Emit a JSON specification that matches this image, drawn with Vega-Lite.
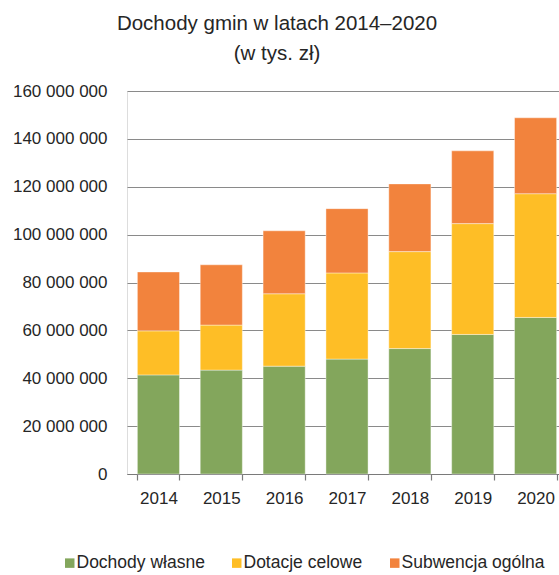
{
  "$schema": "https://vega.github.io/schema/vega-lite/v6.json",
  "width": 432,
  "height": 383,
  "autosize": {"type": "none"},
  "padding": {"left": 127, "top": 91, "right": 0, "bottom": 101},
  "background": "white",
  "title": {
    "text": ["Dochody gmin w latach 2014–2020", "(w tys. zł)"],
    "font": "Liberation Sans",
    "fontSize": 20.5,
    "fontWeight": "normal",
    "color": "#262626",
    "anchor": "middle",
    "dx": -66,
    "lineHeight": 30,
    "offset": 18
  },
  "data": {
    "values": [
      {"rok": "2014", "kategoria": "Dochody własne", "wartosc": 41400000},
      {"rok": "2014", "kategoria": "Dotacje celowe", "wartosc": 18400000},
      {"rok": "2014", "kategoria": "Subwencja ogólna", "wartosc": 24600000},
      {"rok": "2015", "kategoria": "Dochody własne", "wartosc": 43400000},
      {"rok": "2015", "kategoria": "Dotacje celowe", "wartosc": 18800000},
      {"rok": "2015", "kategoria": "Subwencja ogólna", "wartosc": 25200000},
      {"rok": "2016", "kategoria": "Dochody własne", "wartosc": 45050000},
      {"rok": "2016", "kategoria": "Dotacje celowe", "wartosc": 30250000},
      {"rok": "2016", "kategoria": "Subwencja ogólna", "wartosc": 26300000},
      {"rok": "2017", "kategoria": "Dochody własne", "wartosc": 48000000},
      {"rok": "2017", "kategoria": "Dotacje celowe", "wartosc": 36000000},
      {"rok": "2017", "kategoria": "Subwencja ogólna", "wartosc": 26850000},
      {"rok": "2018", "kategoria": "Dochody własne", "wartosc": 52400000},
      {"rok": "2018", "kategoria": "Dotacje celowe", "wartosc": 40500000},
      {"rok": "2018", "kategoria": "Subwencja ogólna", "wartosc": 28300000},
      {"rok": "2019", "kategoria": "Dochody własne", "wartosc": 58300000},
      {"rok": "2019", "kategoria": "Dotacje celowe", "wartosc": 46300000},
      {"rok": "2019", "kategoria": "Subwencja ogólna", "wartosc": 30400000},
      {"rok": "2020", "kategoria": "Dochody własne", "wartosc": 65400000},
      {"rok": "2020", "kategoria": "Dotacje celowe", "wartosc": 51700000},
      {"rok": "2020", "kategoria": "Subwencja ogólna", "wartosc": 31700000}
    ]
  },
  "mark": {"type": "bar", "stroke": "#ffffff", "strokeOpacity": 0.5, "strokeWidth": 0.8},
  "encoding": {
    "x": {
      "field": "rok",
      "type": "ordinal",
      "scale": {"range": [0, 440], "paddingInner": 0.33, "paddingOuter": 0.165},
      "axis": {
        "title": null,
        "labelAngle": 0,
        "tickBand": "extent",
        "domainColor": "#7a7a7a",
        "domainWidth": 1.2,
        "tickColor": "#7a7a7a",
        "tickWidth": 1.2,
        "tickSize": 6,
        "labelFont": "Liberation Sans",
        "labelFontSize": 17,
        "labelColor": "#262626",
        "labelPadding": 10,
        "grid": false
      }
    },
    "y": {
      "field": "wartosc",
      "type": "quantitative",
      "stack": "zero",
      "scale": {"domain": [0, 160000000], "nice": false},
      "axis": {
        "title": null,
        "values": [0, 20000000, 40000000, 60000000, 80000000, 100000000, 120000000, 140000000, 160000000],
        "labelExpr": "replace(replace(format(datum.value, ','), ',', ' '), ',', ' ')",
        "domain": false,
        "ticks": false,
        "labelPadding": 20,
        "labelFont": "Liberation Sans",
        "labelFontSize": 17,
        "labelColor": "#262626",
        "grid": true,
        "gridColor": "#8a8a8a",
        "gridWidth": 1.2
      }
    },
    "color": {
      "field": "kategoria",
      "type": "nominal",
      "scale": {
        "domain": ["Dochody własne", "Dotacje celowe", "Subwencja ogólna"],
        "range": ["#83A65C", "#FEBE26", "#F2833D"]
      },
      "legend": {
        "title": null,
        "orient": "none",
        "legendX": -66,
        "legendY": 463,
        "direction": "horizontal",
        "symbolType": "square",
        "symbolSize": 90,
        "symbolStrokeWidth": 0,
        "labelFont": "Liberation Sans",
        "labelFontSize": 17.5,
        "labelColor": "#262626",
        "labelOffset": -2,
        "columnPadding": 23,
        "padding": 0,
        "labelLimit": 300
      }
    },
    "order": {"field": "kategoria", "type": "nominal", "sort": "ascending"}
  }
}
